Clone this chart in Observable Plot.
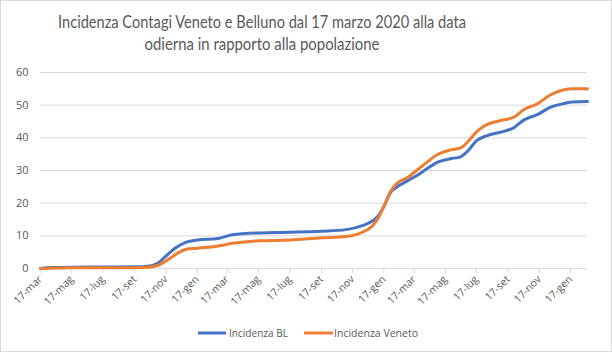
<!DOCTYPE html>
<html>
<head>
<meta charset="utf-8">
<script src="https://cdn.jsdelivr.net/npm/d3@7"></script>
<script src="https://cdn.jsdelivr.net/npm/@observablehq/plot@0.6"></script>
<style>
  html, body { margin: 0; padding: 0; background: #fff; }
  #wrap { position: relative; width: 612px; height: 352px; overflow: hidden; background: #fff; }
  #frame { position: absolute; left: 0; top: 0; width: 612px; height: 352px; box-sizing: border-box; border: 1px solid #d9d9d9; pointer-events: none; }
  #chart, #overlay { position: absolute; left: 0; top: 0; }
</style>
</head>
<body>
<div id="wrap">
  <div id="chart"></div>
  <svg id="overlay" width="612" height="352"></svg>
  <div id="frame"></div>
</div>
<script>
// ---- data ----
const titleLines = [
  "Incidenza Contagi Veneto e Belluno dal 17 marzo 2020 alla data",
  "odierna in rapporto alla popolazione"
];
const seriesNames = ["Incidenza BL", "Incidenza Veneto"];
const seriesColors = ["#4472C4", "#ED7D31"];

const dates = [
  "2020-03-17","2020-04-10","2020-05-17","2020-07-17","2020-09-17","2020-10-13",
  "2020-11-02","2020-11-17","2020-12-07","2020-12-27","2021-01-17","2021-02-27",
  "2021-03-27","2021-05-19","2021-07-17","2021-09-17","2021-11-04","2021-12-06",
  "2021-12-26","2022-01-08","2022-01-17","2022-01-31","2022-02-10","2022-03-05",
  "2022-03-22","2022-04-11","2022-05-01","2022-05-27","2022-06-16","2022-06-29",
  "2022-07-18","2022-08-07","2022-09-02","2022-09-28","2022-10-18","2022-11-13",
  "2022-12-09","2023-01-04","2023-01-20","2023-02-19"
];
const blValues = [
  0, 0.3, 0.4, 0.45, 0.5, 0.7,
  1.7, 3.8, 6.4, 8.1, 8.7, 9.2,
  10.3, 10.9, 11.1, 11.4, 11.9, 13.1,
  14.6, 16.5, 19.0, 23.5, 24.8, 26.9,
  28.4, 30.5, 32.5, 33.6, 34.2, 35.8,
  39.2, 40.7, 41.7, 43.1, 45.5, 47.1,
  49.4, 50.5, 51.0, 51.1
];
const venetoValues = [
  0, 0.1, 0.2, 0.2, 0.25, 0.4,
  1.0, 2.3, 4.4, 5.9, 6.2, 6.9,
  7.7, 8.5, 8.7, 9.4, 9.8, 11.1,
  13.1, 16.0, 19.0, 23.8, 25.9, 27.9,
  30.0, 32.5, 34.8, 36.3, 36.9, 38.6,
  42.0, 44.1, 45.3, 46.3, 48.7, 50.4,
  53.2, 54.7, 55.0, 55.0
];
const tickDates = [
  "2020-03-17","2020-05-17","2020-07-17","2020-09-17","2020-11-17",
  "2021-01-17","2021-03-17","2021-05-17","2021-07-17","2021-09-17","2021-11-17",
  "2022-01-17","2022-03-17","2022-05-17","2022-07-17","2022-09-17","2022-11-17",
  "2023-01-17"
];
const monthAbbr = ["gen","feb","mar","apr","mag","giu","lug","ago","set","ott","nov","dic"];
const yTicks = [0, 10, 20, 30, 40, 50, 60];
const xDomain = ["2020-03-17", "2023-02-19"];

// ---- build ----
const parse = s => new Date(s + "T00:00:00Z");
const rows = [];
dates.forEach((d, i) => {
  rows.push({date: parse(d), value: blValues[i], series: seriesNames[0]});
});
dates.forEach((d, i) => {
  rows.push({date: parse(d), value: venetoValues[i], series: seriesNames[1]});
});
const fmt = d => `${d.getUTCDate()}-${monthAbbr[d.getUTCMonth()]}`;

const font = "'Open Sans', sans-serif";
const grey = "#595959";
const light = "#d9d9d9";

const chart = Plot.plot({
  width: 612,
  height: 352,
  marginTop: 72,
  marginBottom: 84,
  marginLeft: 40,
  marginRight: 25,
  style: {fontFamily: font, fontSize: "10.5px", color: grey, background: "transparent", overflow: "visible"},
  x: {type: "utc", domain: xDomain.map(parse)},
  y: {domain: [0, 60]},
  color: {domain: seriesNames, range: seriesColors},
  marks: [
    Plot.gridY(yTicks, {stroke: light, strokeOpacity: 1, strokeWidth: 1}),
    Plot.axisY({ticks: yTicks, tickSize: 0, tickPadding: 12, label: null, fill: grey, fontSize: 11}),
    Plot.axisX({ticks: tickDates.map(parse), tickFormat: fmt, tickRotate: -45, tickSize: 5, tickPadding: 4,
                stroke: light, strokeOpacity: 1, label: null, fill: grey}),
    Plot.ruleY([0], {stroke: light}),
    Plot.line(rows, {x: "date", y: "value", z: "series", stroke: "series", strokeWidth: 3, curve: "monotone-x"})
  ]
});
document.getElementById("chart").appendChild(chart);

// ---- title & legend (overlay) ----
const ov = d3.select("#overlay");
const titleSpecs = [{y: 28, len: 408}, {y: 50, len: 235}];
titleLines.forEach((t, i) => {
  ov.append("text")
    .attr("x", 262).attr("y", titleSpecs[i].y)
    .attr("text-anchor", "middle")
    .attr("textLength", titleSpecs[i].len)
    .attr("lengthAdjust", "spacingAndGlyphs")
    .style("font-family", "Lato, 'Open Sans', sans-serif")
    .style("font-size", "18px")
    .style("fill", grey)
    .text(t);
});
const legendSpecs = [{x0: 198, x1: 226, tx: 229, len: 59}, {x0: 304, x1: 333, tx: 334, len: 84}];
seriesNames.forEach((name, i) => {
  const s = legendSpecs[i];
  ov.append("line").attr("x1", s.x0).attr("x2", s.x1).attr("y1", 333).attr("y2", 333)
    .attr("stroke", seriesColors[i]).attr("stroke-width", 3);
  ov.append("text").attr("x", s.tx).attr("y", 337)
    .attr("textLength", s.len).attr("lengthAdjust", "spacingAndGlyphs")
    .style("font-family", font).style("font-size", "11px").style("fill", grey)
    .text(name);
});
</script>
</body>
</html>
